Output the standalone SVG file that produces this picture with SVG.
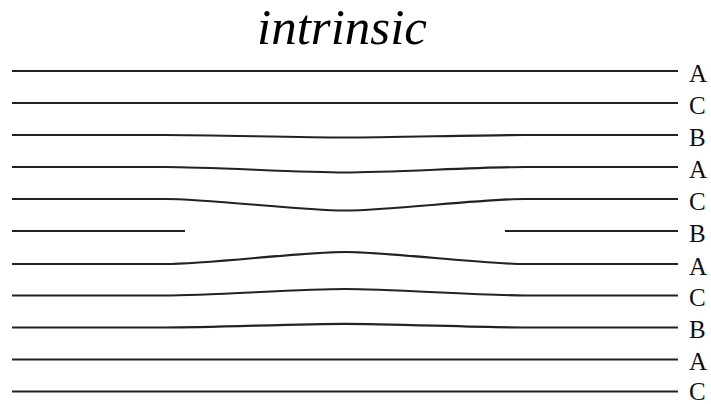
<svg xmlns="http://www.w3.org/2000/svg" width="711" height="404" viewBox="0 0 711 404">
<style>
.ln{fill:none;stroke:#222;stroke-width:2.2;}
.lb{font-family:'Liberation Serif','Times New Roman','DejaVu Serif',serif;font-size:25px;fill:#111;}
.tt{font-family:'Liberation Serif','Times New Roman','DejaVu Serif',serif;font-style:italic;font-size:51px;fill:#000;}
</style>
<rect width="711" height="404" fill="#fff"/>
<text class="tt" x="342" y="44" text-anchor="middle" font-family="Liberation Serif, serif">intrinsic</text>
<g id="connectors">
<path id="l1" class="ln" d="M12,71 L678,71"/>
<path id="l2" class="ln" d="M12,103 L678,103"/>
<path id="l3" class="ln" d="M12,135 L165,135 C210,135 300,137.5 345,137.5 C390,137.5 480,135 525,135 L678,135"/>
<path id="l4" class="ln" d="M12,167 L165,167 C210,167 300,172.5 345,172.5 C390,172.5 480,167 525,167 L678,167"/>
<path id="l5" class="ln" d="M12,199 L165,199 C210,199 300,210.5 345,210.5 C390,210.5 480,199 525,199 L678,199"/>
<path id="l6a" class="ln" d="M12,231 L185,231"/>
<path id="l6b" class="ln" d="M505,231 L678,231"/>
<path id="l7" class="ln" d="M12,264 L165,264 C210,264 300,252 345,252 C390,252 480,264 525,264 L678,264"/>
<path id="l8" class="ln" d="M12,295.5 L165,295.5 C210,295.5 300,289 345,289 C390,289 480,295.5 525,295.5 L678,295.5"/>
<path id="l9" class="ln" d="M12,327.5 L165,327.5 C210,327.5 300,323.8 345,323.8 C390,323.8 480,327.5 525,327.5 L678,327.5"/>
<path id="l10" class="ln" d="M12,359.5 L678,359.5"/>
<path id="l11" class="ln" d="M12,391.5 L678,391.5"/>
</g>
<g id="labels">
<text class="lb" x="689" y="81.5">A</text>
<text class="lb" x="689" y="113.5">C</text>
<text class="lb" x="689" y="145.5">B</text>
<text class="lb" x="689" y="177.5">A</text>
<text class="lb" x="689" y="209.5">C</text>
<text class="lb" x="689" y="241.5">B</text>
<text class="lb" x="689" y="274.5">A</text>
<text class="lb" x="689" y="306">C</text>
<text class="lb" x="689" y="338">B</text>
<text class="lb" x="689" y="370">A</text>
<text class="lb" x="689" y="400">C</text>
</g>
</svg>
